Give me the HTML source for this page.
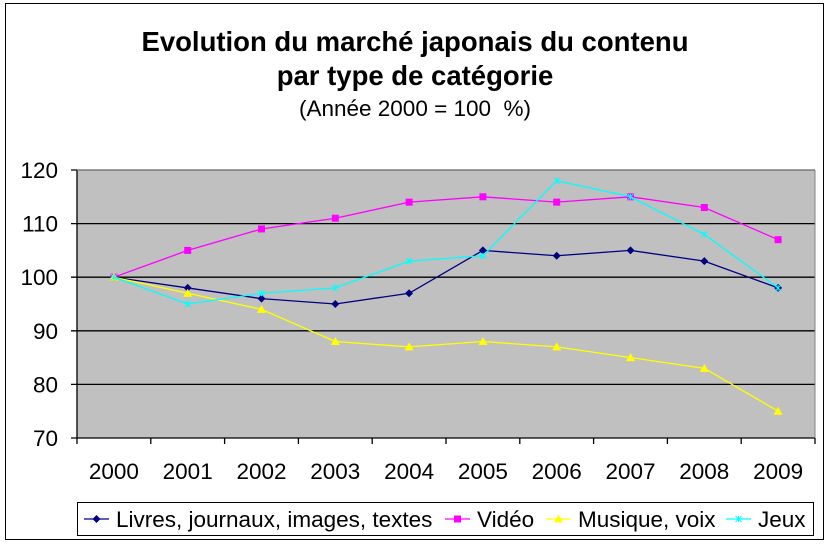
<!DOCTYPE html>
<html><head><meta charset="utf-8"><style>
body{margin:0;background:#fff;}
svg{display:block;font-family:"Liberation Sans",Arial,sans-serif;}
</style></head><body>
<svg width="830" height="545">
<rect x="5.5" y="3.5" width="818" height="536" fill="#fff" stroke="#000"/>
<text x="415" y="51" text-anchor="middle" font-size="27.5" font-weight="bold">Evolution du marché japonais du contenu</text>
<text x="415" y="85" text-anchor="middle" font-size="27.5" font-weight="bold">par type de catégorie</text>
<text x="415" y="116" text-anchor="middle" font-size="22.5">(Année 2000 = 100&#160; %)</text>
<g id="plot"></g>
<g id="legend"></g>
</svg>
<script>
const categories=["2000","2001","2002","2003","2004","2005","2006","2007","2008","2009"];
const livres=[100,98,96,95,97,105,104,105,103,98];
const video=[100,105,109,111,114,115,114,115,113,107];
const musique=[100,97,94,88,87,88,87,85,83,75];
const jeux=[100,95,97,98,103,104,118,115,108,98];
const yTicks=[70,80,90,100,110,120];
const seriesNames=["Livres, journaux, images, textes","Vidéo","Musique, voix","Jeux"];

const NS="http://www.w3.org/2000/svg";
const L=77,R=815,T=170,B=438,ymin=70,ymax=120;
const cw=(R-L)/categories.length;
const xs=i=>L+cw*(i+0.5);
const ys=v=>B-(v-ymin)/(ymax-ymin)*(B-T);
const g=document.getElementById('plot');
function mk(tag,a,p){const e=document.createElementNS(NS,tag);for(const k in a)e.setAttribute(k,a[k]);(p||g).appendChild(e);return e;}
const bg=mk('rect',{x:L,y:T,width:R-L,height:B-T,fill:'#c0c0c0'});


yTicks.forEach(t=>{
  const y=ys(t);
  const gl=mk('line',{x1:L-6,x2:R,y1:y,y2:y,stroke:'#000','stroke-width':1.3});
  
  
  const tx=mk('text',{x:L-19,y:y+8,'text-anchor':'end','font-size':22.5});
  tx.textContent=t;
  
  
});
mk('line',{x1:L,x2:L,y1:T,y2:B,stroke:'#000','stroke-width':1.3});
mk('line',{x1:R,x2:R,y1:T,y2:B,stroke:'#808080','stroke-width':1});
mk('line',{x1:L,x2:R,y1:T,y2:T,stroke:'#808080','stroke-width':1});
categories.forEach((c,i)=>{
  mk('line',{x1:L+cw*(i+1),x2:L+cw*(i+1),y1:B,y2:B+6,stroke:'#000','stroke-width':1.3});
  const tx=mk('text',{x:xs(i),y:B+41,'text-anchor':'middle','font-size':22.5});
  tx.textContent=c;
  
  
});
mk('line',{x1:L,x2:L,y1:B,y2:B+6,stroke:'#000','stroke-width':1.3});
const colors=["#000080","#ff00ff","#ffff00","#00ffff"];
const data=[livres,video,musique,jeux];
function marker(k,x,y,p){
  const c=colors[k];
  if(k===0)return mk('path',{d:`M${x},${y-4}L${x+4},${y}L${x},${y+4}L${x-4},${y}Z`,fill:c},p);
  if(k===1)return mk('rect',{x:x-3.5,y:y-3.5,width:7,height:7,fill:c},p);
  if(k===2)return mk('path',{d:`M${x},${y-4.5}L${x+4.5},${y+3.5}L${x-4.5},${y+3.5}Z`,fill:c},p);
  return mk('path',{d:`M${x-3},${y-3}L${x+3},${y+3}M${x-3},${y+3}L${x+3},${y-3}M${x},${y-3}L${x},${y+3}`,stroke:c,'stroke-width':1},p);
}
data.forEach((arr,k)=>{
  const pl=mk('polyline',{points:arr.map((v,i)=>xs(i)+','+ys(v)).join(' '),fill:'none',stroke:colors[k],'stroke-width':1.3});
  
  
  arr.forEach((v,i)=>{
    const m=marker(k,xs(i),ys(v));
    
    
  });
});
const lg=document.getElementById('legend');
const lb=mk('rect',{x:77.5,y:502.5,width:736,height:33,fill:'#fff',stroke:'#000'},lg);


const lx=[84,445,546,726];
seriesNames.forEach((n,k)=>{
  const x=lx[k],y=519;
  mk('line',{x1:x,x2:x+25,y1:y,y2:y,stroke:colors[k],'stroke-width':1.3},lg);
  marker(k,x+12.5,y,lg);
  const t=mk('text',{x:x+32,y:y+8,'font-size':22.5},lg);
  t.textContent=n;
  
  
});
</script>
</body></html>
